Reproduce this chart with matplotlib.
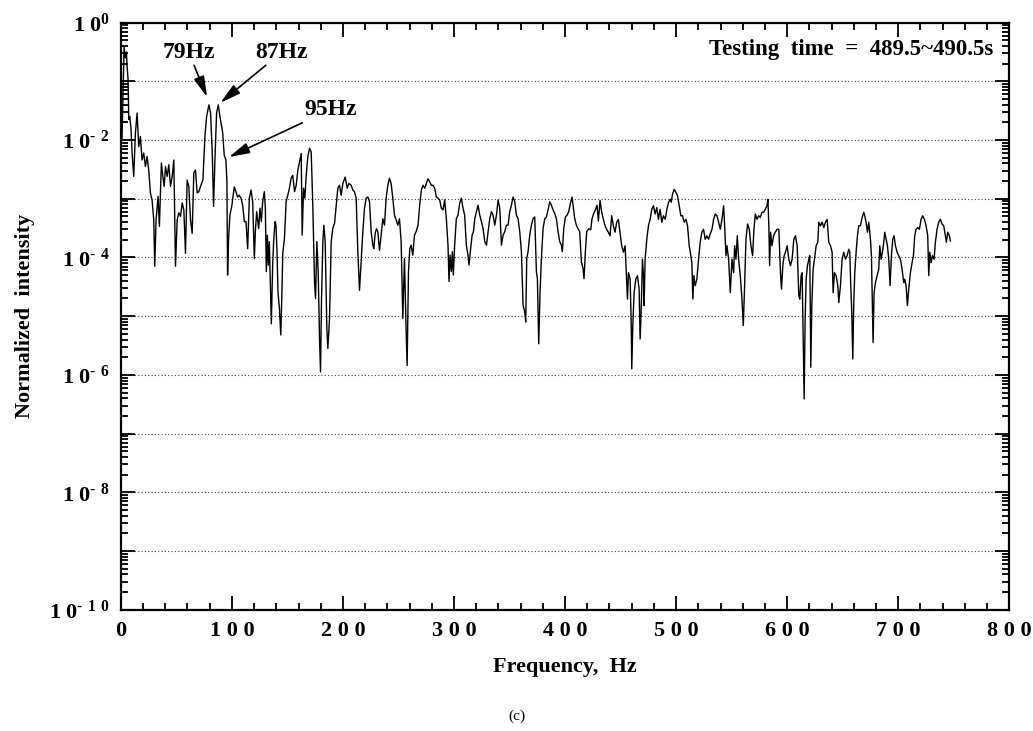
import matplotlib
matplotlib.use('Agg')
import matplotlib.pyplot as plt
from matplotlib.ticker import FixedLocator, LogLocator, MultipleLocator, NullFormatter
import numpy as np

plt.rcParams['font.family'] = 'Liberation Serif'
plt.rcParams['font.weight'] = 'bold'
plt.rcParams['mathtext.default'] = 'regular'

# spectrum: frequency (Hz) and log10 of normalized intensity
freq_hz = [
    1.0, 2.0, 2.9, 4.0, 5.0, 5.6, 6.5, 7.1, 8.0, 9.2, 10.1, 11.6, 13.1, 14.6, 16.1, 17.6,
    19.1, 20.6, 22.1, 23.6, 25.1, 26.6, 28.1, 29.6, 30.5, 31.7, 33.5, 34.7, 36.5, 37.8,
    39.0, 40.2, 41.7, 43.2, 44.7, 46.2, 47.7, 49.2, 50.7, 52.2, 53.7, 55.2, 56.7, 58.2,
    59.7, 61.2, 62.7, 64.2, 65.7, 67.2, 68.7, 70.2, 71.7, 73.9, 75.7, 77.2, 79.3, 80.8,
    82.3, 83.5, 84.7, 86.2, 87.7, 89.2,
    91.6, 93.1, 94.6, 95.5, 96.1, 97.0, 98.2, 100.0, 102.1, 103.6, 105.1, 106.6, 108.2,
    109.7, 111.2, 112.7, 114.2, 115.7, 117.2, 118.7, 120.2, 121.1, 122.3, 124.1, 125.3,
    126.5, 127.7, 129.2, 130.1, 131.0, 131.9, 132.8, 133.7, 134.6, 135.5, 136.7, 137.6,
    138.8, 139.7, 140.6, 141.5, 142.8, 144.0, 144.9, 145.8, 147.3, 148.8, 150.3, 151.8,
    153.3, 154.8, 156.4, 157.9, 159.4, 160.9, 162.4, 163.3, 164.5, 165.7, 166.9, 168.4,
    169.9, 171.4, 172.9, 174.4, 175.3, 176.5, 177.7, 178.9, 179.8, 180.7, 181.9, 182.8,
    184.0, 185.5,
    186.4, 187.9, 189.4, 190.9, 192.4, 195.4, 196.9, 198.4, 199.9, 202.0, 203.8, 205.3,
    207.4, 208.9, 210.4, 211.9, 213.4, 214.9, 216.4, 217.9, 219.4, 220.9, 222.4, 223.9,
    225.4, 226.9, 227.8, 229.0, 230.2, 231.4, 232.9, 234.4, 235.9, 237.4, 238.9, 240.4,
    241.9, 243.4, 244.9, 246.4, 247.9, 249.4, 250.9, 252.4, 253.9, 255.4, 256.9, 257.8,
    259.0, 260.2, 261.4, 262.9, 264.4, 265.9,
    267.6, 269.1, 270.6, 272.1, 273.6, 275.1, 276.6, 278.1, 279.6, 281.1, 282.6, 284.1,
    285.6, 287.1, 288.6, 290.1, 291.6, 293.1, 294.6, 295.5, 296.4, 297.6, 298.5, 299.4,
    300.6, 302.1, 303.6, 305.1, 306.6, 308.1, 309.6, 311.1, 312.6, 313.5, 314.7, 316.3,
    317.5, 318.7, 320.2, 321.7, 323.2, 324.7, 326.2, 327.7, 329.2, 330.7, 332.2, 333.7,
    335.2, 336.7, 338.2, 339.7, 341.2, 342.7, 344.2, 345.7, 347.2, 348.7, 350.2, 351.7,
    353.2, 354.7, 356.2, 357.7, 359.2, 360.7, 362.2, 363.7, 364.6, 365.5, 366.7, 368.2,
    369.7, 371.2, 372.7, 374.2, 375.1, 376.3, 377.5, 378.7, 380.2, 381.7, 383.2, 384.7,
    386.2, 387.7, 389.2, 390.7, 392.2, 393.7, 395.2, 396.7, 397.6, 398.8, 400.3, 401.8,
    403.3, 404.8, 406.3, 407.5, 408.7, 410.2, 411.7, 413.2, 414.7, 416.2, 417.1, 418.3,
    419.5, 421.3, 423.1, 424.3, 425.8, 427.3, 428.8,
    430.0, 431.5, 433.0, 434.5, 436.0, 437.5, 439.0, 440.5, 442.0, 443.5, 445.0, 446.5,
    448.0, 449.5, 451.0, 452.6, 454.1, 455.0, 456.2, 457.1, 458.6, 459.5, 460.1, 461.0,
    462.2, 463.7, 465.2, 466.7, 467.6, 468.5, 469.7, 470.6, 471.2, 472.1, 473.6, 475.1,
    476.6, 478.1, 479.6, 481.1, 482.6, 484.1, 485.6, 487.1, 488.6, 490.2, 491.7, 493.2,
    494.7, 495.6, 496.8, 498.3, 499.8, 501.3, 502.8, 504.3, 505.8, 507.3, 508.8, 510.3,
    511.8, 513.3, 514.2, 515.1, 516.0, 517.2, 518.7, 520.2, 521.7, 523.2, 524.7, 526.2,
    527.7, 529.2, 530.7, 532.3, 533.8, 535.3, 536.8, 538.3, 539.8, 541.3, 542.8, 543.7,
    544.9, 545.8, 547.3, 548.8, 550.3, 551.8, 552.7, 553.9, 555.1, 556.3, 557.8, 559.3,
    560.5, 561.7, 562.9, 564.4, 565.9, 567.4, 568.9, 570.1, 571.3, 572.8, 574.3, 575.8,
    577.3, 578.8, 580.3, 581.8, 582.7, 583.6, 584.2, 585.1, 586.3, 587.8, 589.3, 590.8,
    592.5, 594.0, 594.9, 596.1, 597.3, 598.5, 600.0, 601.5, 603.0, 604.5, 606.0, 607.5,
    609.0, 610.5, 611.4, 612.6, 613.5, 614.4, 615.3, 616.2, 617.1, 618.3, 619.5, 620.4,
    621.3, 622.2, 623.4, 624.6, 626.1, 627.6, 628.5, 630.0, 631.5, 633.0, 634.5, 636.0,
    637.5, 639.0, 640.5, 641.4, 642.6, 644.1, 645.6, 646.5, 648.0, 649.5, 651.0, 652.5,
    654.0, 655.5, 656.4, 657.3, 658.2, 659.1, 660.0, 660.9, 662.1, 663.3, 664.5, 666.0,
    667.5, 669.0, 669.9, 671.1, 672.3, 673.5, 675.0, 675.9, 676.8, 677.4, 678.3, 679.5,
    681.0, 682.5, 683.4, 684.6, 685.8, 687.0, 687.9, 689.1, 690.3, 691.5, 692.7, 693.9,
    695.1, 696.3, 697.5, 699.0, 700.5, 702.0, 703.5, 705.0, 705.9, 707.1, 708.3, 709.5,
    711.0, 712.5, 713.7, 714.9, 716.1, 717.6, 719.1, 720.6, 722.1, 723.6, 725.1, 726.6,
    727.5, 728.4, 729.6, 730.8, 732.3, 733.5, 735.0, 736.5, 738.0, 739.5, 741.0, 742.5,
    743.4, 744.6, 746.1, 747.0,
]
log_intensity = [
    -2.0, -1.2, -0.42, -0.6, -0.5, -0.74, -0.97, -1.65, -1.6, -1.82, -2.22, -2.62, -1.88, -1.54, -2.11, -1.94,
    -2.34, -2.22, -2.45, -2.28, -2.51, -2.9, -3.02, -3.36, -4.15, -3.36, -2.96, -3.47, -2.39, -2.62,
    -2.79, -2.45, -2.62, -2.42, -2.79, -2.62, -2.34, -4.15, -3.36, -3.24, -3.3, -3.07, -3.19, -3.93,
    -2.68, -2.79, -3.36, -3.59, -2.56, -2.51, -2.9, -2.88, -2.79, -2.68, -1.94, -1.6, -1.4, -1.54,
    -2.22, -3.13, -2.34, -1.54, -1.4, -1.6,
    -1.86, -2.26, -2.34, -2.71, -4.30, -3.68, -3.28, -3.11, -2.80, -2.88, -2.97, -2.94, -2.99,
    -3.11, -3.39, -3.39, -3.85, -2.99, -2.85, -3.05, -4.02, -3.56, -3.22, -3.51, -3.16,
    -3.39, -3.05, -2.88, -3.16, -4.24, -3.62, -4.13, -3.73, -4.41, -5.13, -4.13, -3.73,
    -3.39, -3.45, -3.90, -4.59, -4.87, -5.32, -4.70, -3.93, -3.68, -3.05, -2.94, -2.82,
    -2.65, -2.60, -2.88, -2.77, -2.51, -2.37, -2.23, -3.62, -2.82, -2.99, -2.60, -2.28,
    -2.14, -2.20, -3.16, -4.41, -4.70, -3.73, -4.24, -5.38, -5.95, -4.70, -3.73, -3.45,
    -3.73, -5.21,
    -5.55, -5.04, -3.73, -3.5, -3.42, -2.82, -2.77, -2.94, -2.74, -2.63, -2.82, -2.74,
    -2.77, -2.85, -2.88, -2.99, -3.9, -4.56, -4.07, -3.56, -3.16, -2.99, -2.97, -3.05,
    -3.56, -3.79, -3.85, -3.59, -3.51, -3.56, -3.88, -3.62, -3.34, -3.45, -2.99, -2.77,
    -2.65, -2.74, -2.99, -3.28, -3.36, -3.45, -3.34, -3.73, -5.04, -4.02, -5.27, -5.84,
    -4.24, -3.85, -3.79, -3.96, -3.62, -3.56,
    -3.45, -3.11, -2.85, -2.77, -2.82, -2.74, -2.66, -2.71, -2.77, -2.77, -2.82, -2.97,
    -2.99, -3.02, -3.16, -3.19, -3.02, -3.34, -3.79, -4.41, -3.96, -4.24, -3.90, -4.30,
    -3.79, -3.34, -3.28, -3.08, -2.99, -3.16, -3.28, -3.79, -3.96, -4.13, -3.90, -3.62,
    -3.56, -3.34, -3.22, -3.11, -3.28, -3.39, -3.51, -3.73, -3.79, -3.56, -3.34, -3.22,
    -3.28, -3.45, -3.28, -3.02, -3.16, -3.79, -3.62, -3.56, -3.45, -3.45, -3.22, -3.11,
    -2.97, -3.05, -3.28, -3.34, -3.56, -3.90, -4.81, -4.93, -5.10, -4.02, -3.90, -3.62,
    -3.45, -3.34, -3.31, -4.24, -4.36, -5.47, -4.59, -4.02, -3.51, -3.34, -3.31, -3.19,
    -3.05, -3.11, -3.19, -3.25, -3.34, -3.56, -3.73, -3.79, -3.90, -3.51, -3.31, -3.28,
    -3.22, -3.08, -2.97, -3.16, -3.34, -3.45, -3.51, -3.56, -4.07, -4.19, -4.36, -3.90,
    -3.56, -3.51, -3.53, -3.34, -3.25, -3.19, -3.11,
    -3.38, -3.03, -3.23, -3.35, -3.46, -3.52, -3.57, -3.63, -3.29, -3.46, -3.57, -3.40,
    -3.35, -3.57, -3.80, -3.91, -3.80, -4.20, -4.71, -4.26, -4.37, -5.05, -5.90, -5.16,
    -4.60, -4.37, -4.31, -4.54, -5.39, -4.94, -4.03, -4.31, -4.82, -4.03, -3.69, -3.46,
    -3.35, -3.18, -3.12, -3.26, -3.15, -3.35, -3.18, -3.40, -3.29, -3.35, -3.18, -3.06,
    -3.01, -3.06, -2.92, -2.84, -2.89, -2.95, -3.12, -3.29, -3.29, -3.40, -3.35, -3.46,
    -3.80, -3.97, -4.09, -4.71, -4.31, -4.48, -4.37, -4.03, -3.74, -3.57, -3.52, -3.69,
    -3.63, -3.69, -3.60, -3.52, -3.35, -3.26, -3.29, -3.40, -3.52, -3.35, -3.12, -3.46,
    -3.97, -3.80, -4.03, -4.60, -4.03, -4.26, -3.80, -4.03, -3.63, -4.03, -4.31, -4.71,
    -5.16, -4.48, -3.69, -3.43, -3.52, -3.80, -3.97, -3.52, -3.26, -3.35, -3.29, -3.32,
    -3.23, -3.23, -3.18, -3.12, -3.01, -3.52, -4.14, -3.57, -3.80, -3.63, -3.57, -3.52,
    -3.52, -4.26, -4.54, -4.14, -3.97, -3.91, -3.80, -4.03, -4.14, -4.03, -3.69, -3.63,
    -3.80, -4.65, -4.71, -4.31, -4.26, -5.28, -6.41, -5.05, -4.37, -4.14, -4.03, -3.97,
    -5.87, -4.82, -4.20, -4.03, -3.80, -3.74, -3.40, -3.46, -3.40, -3.49, -3.40, -3.35,
    -3.74, -3.80, -3.91, -4.60, -4.26, -4.31, -4.48, -4.77, -4.48, -4.03, -3.91, -4.03,
    -3.97, -3.86, -3.91, -4.48, -4.94, -5.73, -4.77, -4.26, -3.91, -3.63, -3.46, -3.46,
    -3.32, -3.23, -3.29, -3.40, -3.57, -3.40, -3.69, -3.97, -4.82, -5.45, -4.60, -4.43,
    -4.31, -4.20, -3.80, -4.03, -3.91, -3.74, -3.57, -3.69, -3.80, -4.03, -4.48, -3.97,
    -3.69, -3.63, -3.80, -3.91, -3.97, -4.03, -4.20, -4.43, -4.37, -4.48, -4.82, -4.54,
    -4.26, -4.09, -3.97, -3.63, -3.52, -3.49, -3.52, -3.35, -3.29, -3.35, -3.46, -3.63,
    -4.31, -3.91, -4.09, -3.97, -4.03, -3.74, -3.52, -3.40, -3.35, -3.43, -3.46, -3.63,
    -3.74, -3.57, -3.63, -3.72,
]

x_ticks = [0, 100, 200, 300, 400, 500, 600, 700, 800]
y_exponents = list(range(0, 11))

intensity = 10.0 ** np.array(log_intensity)

fig = plt.figure(figsize=(10.33, 7.31), dpi=100)
ax = fig.add_axes([0.117, 0.166, 0.860, 0.803])

ax.plot(freq_hz, intensity, color='black', lw=1.0)

ax.set_yscale('log')
ax.set_xlim(0, 800)
ax.set_ylim(1e-10, 1e0)

# y ticks: every decade, labels on even ones in the "1 0^- n" style
hyph = '\u2010'
ylabels = []
for k in y_exponents:
    if k % 2:
        ylabels.append('')
    elif k == 0:
        ylabels.append(r'1 0$^{\mathregular{0}}$')
    else:
        digits = r'\ '.join(str(k))
        ylabels.append(r'1 0$^{\mathregular{' + hyph + r'\ ' + digits + '}}$')
ax.yaxis.set_major_locator(FixedLocator([10.0 ** -k for k in y_exponents]))
ax.set_yticklabels(ylabels)
ax.yaxis.set_minor_locator(LogLocator(base=10, subs=np.arange(2, 10), numticks=50))
ax.yaxis.set_minor_formatter(NullFormatter())

ax.xaxis.set_major_locator(FixedLocator(x_ticks))
ax.set_xticklabels([' '.join(str(v)) for v in x_ticks])
ax.xaxis.set_minor_locator(MultipleLocator(20))

ax.tick_params(which='both', direction='in', top=True, right=True, width=1.3,
               labelsize=16)
ax.tick_params(which='major', length=10, pad=8)
ax.tick_params(which='minor', length=5)
for sp in ax.spines.values():
    sp.set_linewidth(1.6)

ax.grid(axis='y', which='major', linestyle=(0, (1, 2)), color='#444444', lw=0.8)

ax.set_xlabel('Frequency,  Hz', fontsize=16, fontweight='bold', labelpad=12)
ax.set_ylabel('Normalized  intensity', fontsize=16, fontweight='bold', labelpad=10)

# peak annotations
arrow = dict(arrowstyle='-|>,head_length=0.7,head_width=0.18', color='black',
             lw=1.2, mutation_scale=18, shrinkA=0, shrinkB=1)
ax.annotate('79Hz', xy=(78.1, 10 ** -1.29), xytext=(61, 10 ** -0.5),
            ha='center', va='center', fontsize=17, arrowprops=arrow)
ax.annotate('87Hz', xy=(88.6, 10 ** -1.38), xytext=(145, 10 ** -0.5),
            ha='center', va='center', fontsize=17, arrowprops=arrow)
ax.annotate('95Hz', xy=(96.1, 10 ** -2.30), xytext=(189, 10 ** -1.48),
            ha='center', va='center', fontsize=17, arrowprops=arrow)

ax.text(0.982, 0.972, 'Testing  time  =  489.5~490.5s', transform=ax.transAxes,
        ha='right', va='top', fontsize=16.5)

fig.text(0.5, 0.02, '(c)', ha='center', va='center', fontsize=11, fontweight='normal')

fig.savefig('out.png', dpi=100)
